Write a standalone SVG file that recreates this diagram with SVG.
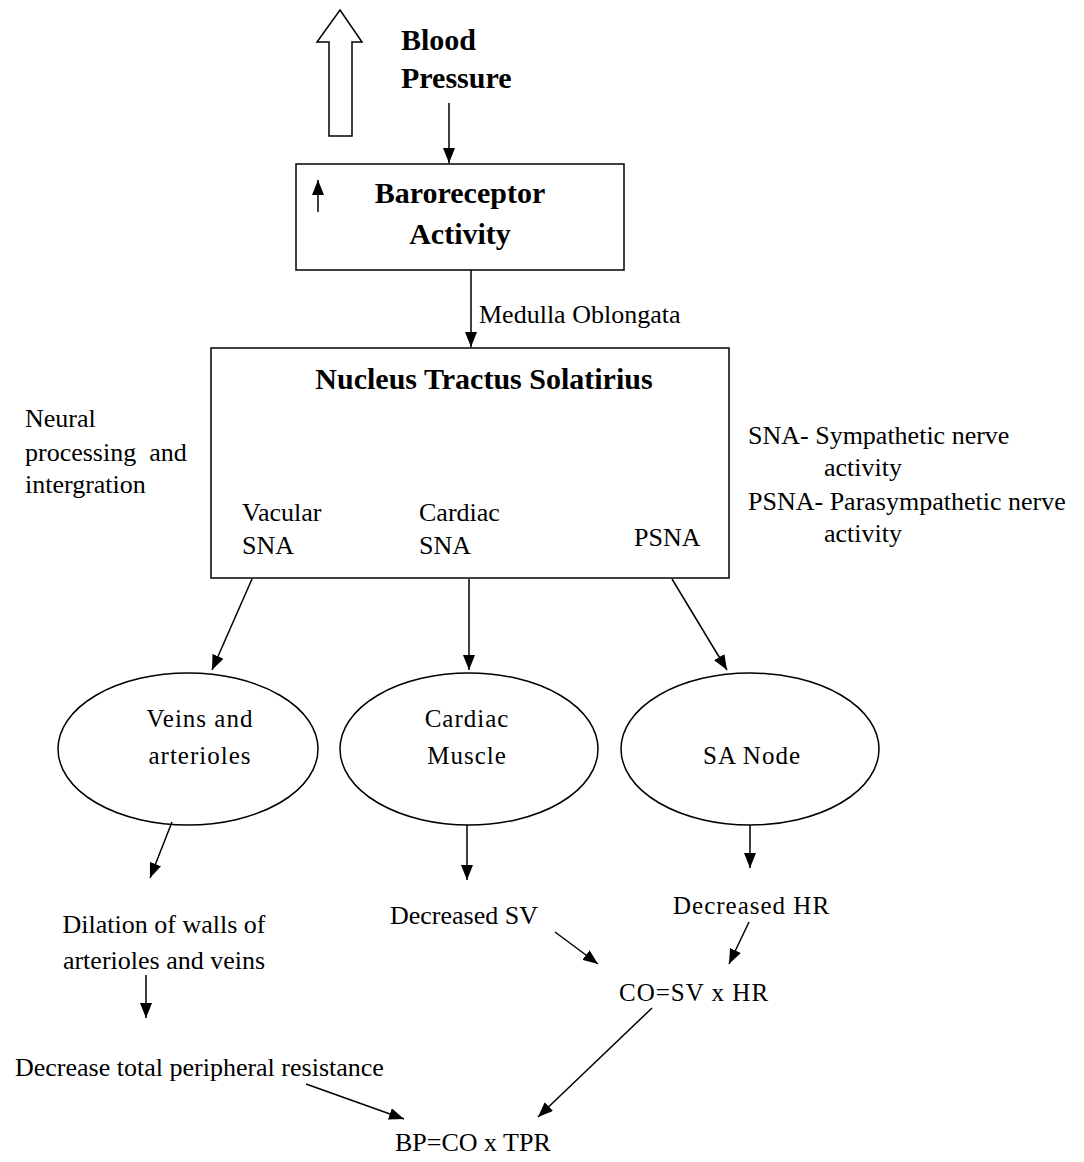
<svg xmlns="http://www.w3.org/2000/svg" width="1084" height="1162" viewBox="0 0 1084 1162">
<style>
text{font-family:"Liberation Serif","Times New Roman",serif;fill:#000}
.b{font-weight:bold;font-size:30px}
.t{font-size:26px}
.e{font-size:25px;letter-spacing:1px}
.box{fill:#fff;stroke:#000;stroke-width:1.5}
.c line{stroke:#000;stroke-width:1.5;marker-end:url(#ah)}
</style>
<defs>
<marker id="ah" markerUnits="userSpaceOnUse" markerWidth="16" markerHeight="12" refX="15" refY="6" orient="auto">
<path d="M0,0 L15,6 L0,12 Z" fill="#000"/>
</marker>
</defs>
<rect width="1084" height="1162" fill="#fff"/>
<g id="bp-up">
<path d="M340,10 L362,42 L352,42 L352,136 L329,136 L329,42 L317,42 Z" fill="#fff" stroke="#000" stroke-width="1.5"/>
<text class="b" x="401" y="50">Blood</text>
<text class="b" x="401" y="88">Pressure</text>
</g>
<g id="baroreceptor">
<rect class="box" x="296" y="164" width="328" height="106"/>
<line x1="318" y1="212" x2="318" y2="180" stroke="#000" stroke-width="1.5" marker-end="url(#ah)"/>
<text class="b" x="460" y="203" text-anchor="middle">Baroreceptor</text>
<text class="b" x="460" y="244" text-anchor="middle">Activity</text>
</g>
<g id="nts">
<rect class="box" x="211" y="348" width="518" height="230"/>
<text class="b" x="484" y="389" text-anchor="middle">Nucleus Tractus Solatirius</text>
<text class="t" x="242" y="521">Vacular</text>
<text class="t" x="242" y="554">SNA</text>
<text class="t" x="419" y="521">Cardiac</text>
<text class="t" x="419" y="554">SNA</text>
<text class="t" x="634" y="546">PSNA</text>
</g>
<g id="neural-note">
<text class="t" x="25" y="427">Neural</text>
<text class="t" x="25" y="461" xml:space="preserve">processing  and</text>
<text class="t" x="25" y="493">intergration</text>
</g>
<g id="legend">
<text class="t" x="748" y="444">SNA- Sympathetic nerve</text>
<text class="t" x="824" y="476">activity</text>
<text class="t" x="748" y="510">PSNA- Parasympathetic nerve</text>
<text class="t" x="824" y="542">activity</text>
</g>
<g id="veins">
<ellipse class="box" cx="188" cy="749" rx="130" ry="76"/>
<text class="e" x="200" y="727" text-anchor="middle">Veins and</text>
<text class="e" x="200" y="764" text-anchor="middle">arterioles</text>
</g>
<g id="cardiac-muscle">
<ellipse class="box" cx="469" cy="749" rx="129" ry="76"/>
<text class="e" x="467" y="727" text-anchor="middle">Cardiac</text>
<text class="e" x="467" y="764" text-anchor="middle">Muscle</text>
</g>
<g id="sa-node">
<ellipse class="box" cx="750" cy="749" rx="129" ry="76"/>
<text class="e" x="752" y="764" text-anchor="middle">SA Node</text>
</g>
<g id="dilation">
<text class="t" x="164" y="933" text-anchor="middle">Dilation of walls of</text>
<text class="t" x="164" y="969" text-anchor="middle">arterioles and veins</text>
</g>
<g id="dec-sv"><text class="t" x="390" y="924">Decreased SV</text></g>
<g id="dec-hr"><text class="e" x="673" y="914">Decreased HR</text></g>
<g id="dec-tpr"><text class="t" x="15" y="1076">Decrease total peripheral resistance</text></g>
<g id="co"><text class="e" x="619" y="1001">CO=SV x HR</text></g>
<g id="bp"><text class="t" x="395" y="1151">BP=CO x TPR</text></g>
<g id="connectors" class="c">
<line x1="449" y1="103" x2="449" y2="163"/>
<line x1="471" y1="270" x2="471" y2="347"/>
<line x1="252" y1="579" x2="212" y2="670"/>
<line x1="469" y1="579" x2="469" y2="670"/>
<line x1="672" y1="579" x2="727" y2="670"/>
<line x1="172" y1="822" x2="150" y2="878"/>
<line x1="467" y1="825" x2="467" y2="880"/>
<line x1="750" y1="825" x2="750" y2="868"/>
<line x1="146" y1="975" x2="146" y2="1018"/>
<line x1="555" y1="932" x2="598" y2="964"/>
<line x1="749" y1="922" x2="729" y2="964"/>
<line x1="652" y1="1008" x2="538" y2="1117"/>
<line x1="306" y1="1084" x2="404" y2="1119"/>
</g>
<g id="medulla-label"><text class="t" x="479" y="323">Medulla Oblongata</text></g>
</svg>
